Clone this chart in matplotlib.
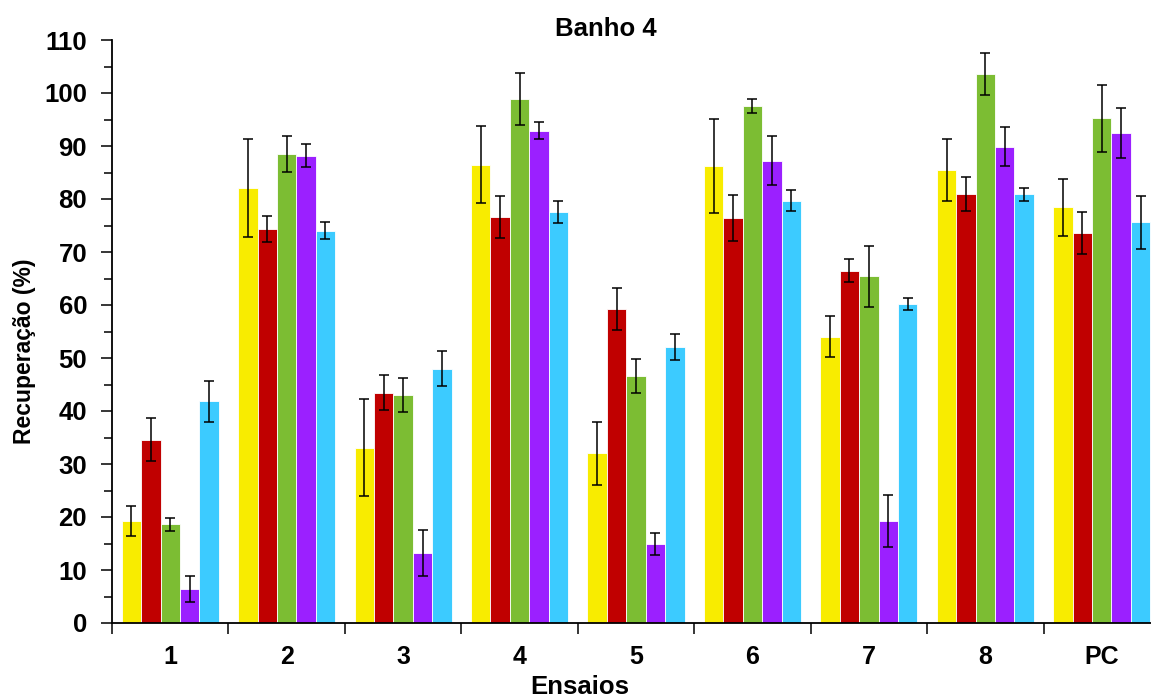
import matplotlib
matplotlib.use("Agg")
import matplotlib.pyplot as plt
import numpy as np

plt.rcParams['font.family'] = ['Liberation Sans', 'DejaVu Sans']
plt.rcParams['font.weight'] = 'bold'

categories = ["1", "2", "3", "4", "5", "6", "7", "8", "PC"]

yellow_vals = [19.3, 82.1, 33.1, 86.5, 32.0, 86.2, 54.0, 85.5, 78.4]
yellow_err = [2.8, 9.3, 9.2, 7.3, 6.0, 8.9, 3.9, 5.8, 5.4]

red_vals = [34.6, 74.3, 43.4, 76.6, 59.3, 76.4, 66.5, 80.9, 73.6]
red_err = [4.0, 2.5, 3.3, 4.0, 4.0, 4.3, 2.1, 3.2, 4.0]

green_vals = [18.6, 88.5, 43.0, 98.9, 46.6, 97.5, 65.4, 103.6, 95.2]
green_err = [1.2, 3.4, 3.2, 4.9, 3.2, 1.3, 5.7, 4.0, 6.3]

purple_vals = [6.4, 88.2, 13.2, 92.9, 14.9, 87.2, 19.2, 89.9, 92.4]
purple_err = [2.5, 2.2, 4.3, 1.6, 2.1, 4.6, 4.9, 3.6, 4.7]

cyan_vals = [41.8, 74.0, 48.0, 77.6, 52.1, 79.7, 60.2, 80.9, 75.6]
cyan_err = [3.8, 1.6, 3.3, 2.1, 2.4, 2.0, 1.2, 1.25, 5.0]

series = [
    (yellow_vals, yellow_err, "#F8EC00"),
    (red_vals, red_err, "#C00000"),
    (green_vals, green_err, "#7CBD33"),
    (purple_vals, purple_err, "#9B20FF"),
    (cyan_vals, cyan_err, "#3CCBFF"),
]

W, H = 1151, 698
fig = plt.figure(figsize=(W / 100, H / 100), dpi=100)
ax = fig.add_axes([112 / W, (H - 623) / H, (1160 - 112) / W, (623 - 40) / H])

x = np.arange(len(categories))
bw = 1 / 6
offsets = (np.arange(len(series)) - 2) * bw

for (vals, errs, col), off in zip(series, offsets):
    ax.bar(x + off, vals, width=bw, color=col, edgecolor="white",
           linewidth=0.6, zorder=2)
    ax.errorbar(x + off, vals, yerr=errs, fmt="none", ecolor="black",
                elinewidth=1.1, capsize=3.4, capthick=1.1, zorder=3)

ax.set_xlim(-0.5, len(categories) - 0.5)
ax.set_ylim(0, 110)

# x: boundary ticks without labels, category labels on minor ticks
ax.set_xticks(np.arange(len(categories) + 1) - 0.5)
ax.set_xticklabels([])
ax.set_xticks(x, minor=True)
ax.set_xticklabels(categories, minor=True, fontsize=18, fontweight="bold")
ax.tick_params(axis="x", which="major", direction="out", length=8, width=1.1)
ax.tick_params(axis="x", which="minor", length=0, pad=16)

ax.set_yticks(np.arange(0, 111, 10))
ax.set_yticks(np.arange(5, 110, 10), minor=True)
ax.set_yticklabels([str(v) for v in range(0, 111, 10)], fontsize=18.5,
                   fontweight="bold")
ax.tick_params(axis="y", which="major", direction="out", length=8, width=1.1,
               pad=10)
ax.tick_params(axis="y", which="minor", direction="out", length=6, width=1.1)

for side in ("top", "right"):
    ax.spines[side].set_visible(False)
for side in ("left", "bottom"):
    ax.spines[side].set_linewidth(1.3)

fig.text(606 / W, (H - 36) / H, "Banho 4", ha="center", va="baseline",
         fontsize=18.5, fontweight="bold")
fig.text(580 / W, (H - 694) / H, "Ensaios", ha="center", va="baseline",
         fontsize=18.5, fontweight="bold")
fig.text(25 / W, (H - 351) / H, "Recuperação (%)", ha="center", va="center",
         rotation=90, fontsize=16.5, fontweight="bold")

fig.savefig("out.png", dpi=100)
